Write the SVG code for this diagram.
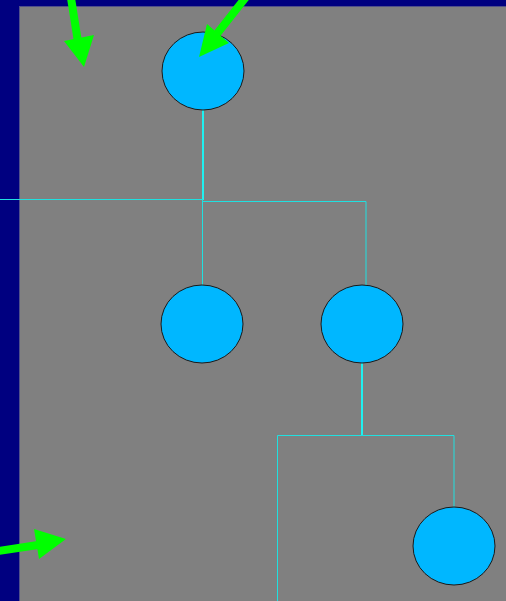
<svg xmlns="http://www.w3.org/2000/svg" width="506" height="601" viewBox="0 0 506 601">
<style>
.node{fill:#00B7FF;stroke:#1a1a1a;stroke-width:1}
.thin{fill:none;stroke:#20E0E0;stroke-width:1}
.thick{fill:none;stroke:#20F0F0;stroke-width:2}
.ar{fill:#00FF00}
.sh{stroke:#00FF00;stroke-width:8;fill:none}
</style>
<rect x="0" y="0" width="506" height="601" fill="#000080"/>
<rect x="19.5" y="6.5" width="500" height="600" fill="#808080" stroke="#50508a" stroke-width="1"/>
<g id="connectors">
<path class="thick" d="M203 110 V200"/>
<path class="thin" d="M0 199.5 H203"/>
<path class="thin" d="M202.5 200 V286"/>
<path class="thin" d="M203 201.5 H366 V286"/>
<path class="thick" d="M362 363 V436"/>
<path class="thin" d="M277.5 435.5 H454 V507"/>
<path class="thin" d="M277.5 435.5 V601"/>
</g>
<g id="node1"><ellipse class="node" cx="203" cy="71" rx="41" ry="39"/></g>
<g id="node2"><ellipse class="node" cx="202" cy="324" rx="41" ry="39"/></g>
<g id="node3"><ellipse class="node" cx="362" cy="324" rx="41" ry="39"/></g>
<g id="node4"><ellipse class="node" cx="454" cy="546" rx="41" ry="39"/></g>
<g id="arrows">
<line class="sh" x1="71" y1="-2" x2="78" y2="42"/>
<polygon class="ar" points="64,41 94,35 84,67"/>
<line class="sh" x1="246" y1="-3" x2="216" y2="35"/>
<polygon class="ar" points="207,24 229,43 199,57"/>
<line class="sh" x1="-2" y1="551" x2="38" y2="545"/>
<polygon class="ar" points="34,529 66,539 39,559"/>
</g>
</svg>
